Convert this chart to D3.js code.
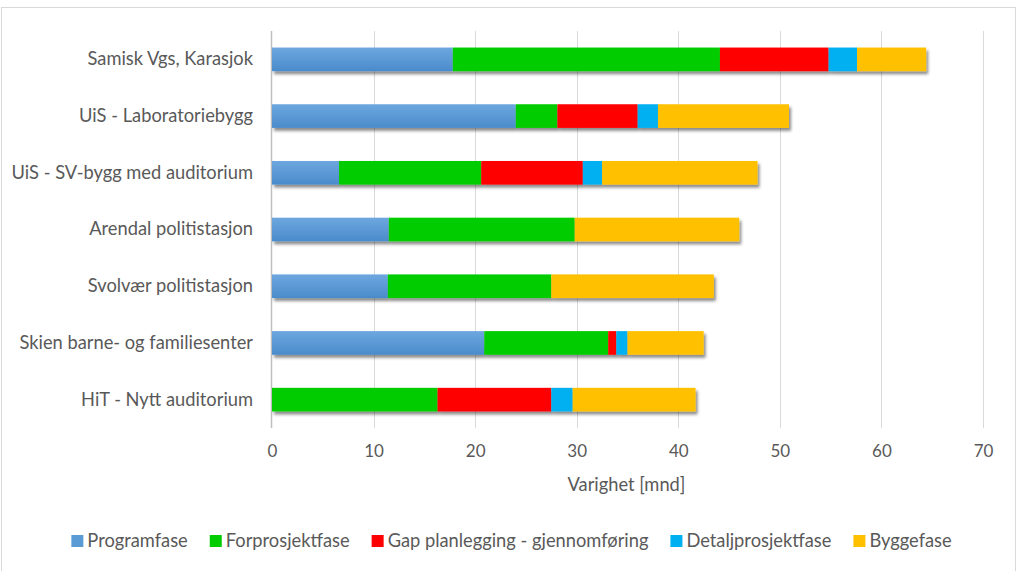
<!DOCTYPE html>
<html>
<head>
<meta charset="utf-8">
<script src="https://cdn.jsdelivr.net/npm/d3@7"></script>
<style>
  html, body { margin: 0; padding: 0; background: #fff; }
  svg { display: block; font-family: Lato, "Open Sans", sans-serif; }
</style>
</head>
<body>
<svg id="chart" width="1017" height="571"></svg>
<script>
// ---- data ----
const categories = [
  "Samisk Vgs, Karasjok",
  "UiS - Laboratoriebygg",
  "UiS - SV-bygg med auditorium",
  "Arendal politistasjon",
  "Svolvær politistasjon",
  "Skien barne- og familiesenter",
  "HiT - Nytt auditorium"
];
const seriesNames = ["Programfase", "Forprosjektfase", "Gap planlegging - gjennomføring", "Detaljprosjektfase", "Byggefase"];
const programfase      = [17.8, 24.0, 6.6, 11.5, 11.4, 20.9, 0];
const forprosjektfase  = [26.3, 4.1, 14.0, 18.3, 16.1, 12.2, 16.3];
const gap              = [10.7, 7.9, 10.0, 0, 0, 0.8, 11.2];
const detaljprosjekt   = [2.8, 2.0, 1.9, 0, 0, 1.1, 2.1];
const byggefase        = [6.8, 12.9, 15.3, 16.2, 16.0, 7.5, 12.1];
const xTicks = [0, 10, 20, 30, 40, 50, 60, 70];
const xTitle = "Varighet [mnd]";
const colors = ["url(#blueGrad)", "#00CC00", "#FF0000", "#00B0F0", "#FFC000"];
const legendColors = ["#5B9BD5", "#00CC00", "#FF0000", "#00B0F0", "#FFC000"];

// ---- build table ----
const seriesValues = [programfase, forprosjektfase, gap, detaljprosjekt, byggefase];
const table = categories.map((c, i) => {
  const row = { cat: c };
  seriesNames.forEach((s, j) => row[s] = seriesValues[j][i]);
  return row;
});
const stacked = d3.stack().keys(seriesNames)(table);

const svg = d3.select("#chart");
const W = 1017, H = 571;
const plot = { left: 272, right: 983, top: 31, bottom: 428 };

// defs
const defs = svg.append("defs");
const grad = defs.append("linearGradient").attr("id", "blueGrad")
  .attr("x1", 0).attr("y1", 0).attr("x2", 0).attr("y2", 1);
grad.append("stop").attr("offset", "0%").attr("stop-color", "#6DA7DF");
grad.append("stop").attr("offset", "100%").attr("stop-color", "#4A8BCB");
const filt = defs.append("filter").attr("id", "shadow")
  .attr("x", "-5%").attr("y", "-20%").attr("width", "115%").attr("height", "160%");
filt.append("feDropShadow").attr("dx", 2).attr("dy", 3).attr("stdDeviation", 1.6)
  .attr("flood-color", "#000").attr("flood-opacity", 0.45);

// chart border
svg.append("rect").attr("x", 1.5).attr("y", 7.5).attr("width", 1014).attr("height", 580)
  .attr("fill", "none").attr("stroke", "#d9d9d9").attr("stroke-width", 1);

const x = d3.scaleLinear().domain([0, 70]).range([plot.left, plot.right]);
const y = d3.scaleBand().domain(categories).range([plot.top, plot.bottom])
  .paddingInner(0.5833).paddingOuter(0.5833 / 2);

// gridlines
svg.append("g").selectAll("line").data(xTicks.slice(1)).join("line")
  .attr("x1", d => Math.round(x(d)) + 0.5).attr("x2", d => Math.round(x(d)) + 0.5)
  .attr("y1", plot.top).attr("y2", plot.bottom)
  .attr("stroke", "#d9d9d9").attr("stroke-width", 1);

// category axis line
svg.append("line")
  .attr("x1", Math.round(x(0)) - 0.5).attr("x2", Math.round(x(0)) - 0.5)
  .attr("y1", plot.top).attr("y2", plot.bottom)
  .attr("stroke", "#bfbfbf").attr("stroke-width", 1.5);

// bars
const gBars = svg.append("g").attr("filter", "url(#shadow)");
stacked.forEach((layer, j) => {
  gBars.append("g").attr("fill", colors[j])
    .selectAll("rect").data(layer.filter(d => d[1] - d[0] > 0)).join("rect")
    .attr("x", d => x(d[0]))
    .attr("width", d => x(d[1]) - x(d[0]))
    .attr("y", d => y(d.data.cat))
    .attr("height", y.bandwidth());
});

// x axis tick labels
const xAxis = d3.axisBottom(x).tickValues(xTicks).tickSize(0).tickPadding(0);
const gx = svg.append("g").attr("transform", `translate(0, 445)`).call(xAxis);
gx.select(".domain").remove();
gx.selectAll("text").attr("fill", "#595959").attr("font-size", 17)
  .attr("font-family", "Lato, sans-serif").attr("dy", "0.71em");

// y axis labels
const yAxis = d3.axisLeft(y).tickSize(0).tickPadding(19);
const gy = svg.append("g").attr("transform", `translate(${plot.left}, 0)`).call(yAxis);
gy.select(".domain").remove();
gy.selectAll("text").attr("fill", "#595959").attr("font-size", 18.3)
  .attr("font-family", "Lato, sans-serif");

// axis title
svg.append("text").attr("x", (plot.left + plot.right) / 2 - 1).attr("y", 491)
  .attr("text-anchor", "middle").attr("fill", "#595959").attr("font-size", 18.3)
  .text(xTitle);

// legend
const legend = svg.append("g");
const items = legend.selectAll("g").data(seriesNames).join("g");
items.append("rect").attr("width", 12).attr("height", 12).attr("y", -6)
  .attr("fill", (d, i) => legendColors[i]);
items.append("text").attr("x", 16).attr("dy", "0.35em").attr("fill", "#595959")
  .attr("font-size", 18.3).text(d => d);
let cx = 0;
const gapW = 22;
items.each(function () {
  const w = this.querySelector("text").getComputedTextLength() + 16;
  d3.select(this).attr("transform", `translate(${cx},0)`);
  cx += w + gapW;
});
const totalW = cx - gapW;
legend.attr("transform", `translate(${(W - totalW) / 2 + 3}, 541)`);
</script>
</body>
</html>
